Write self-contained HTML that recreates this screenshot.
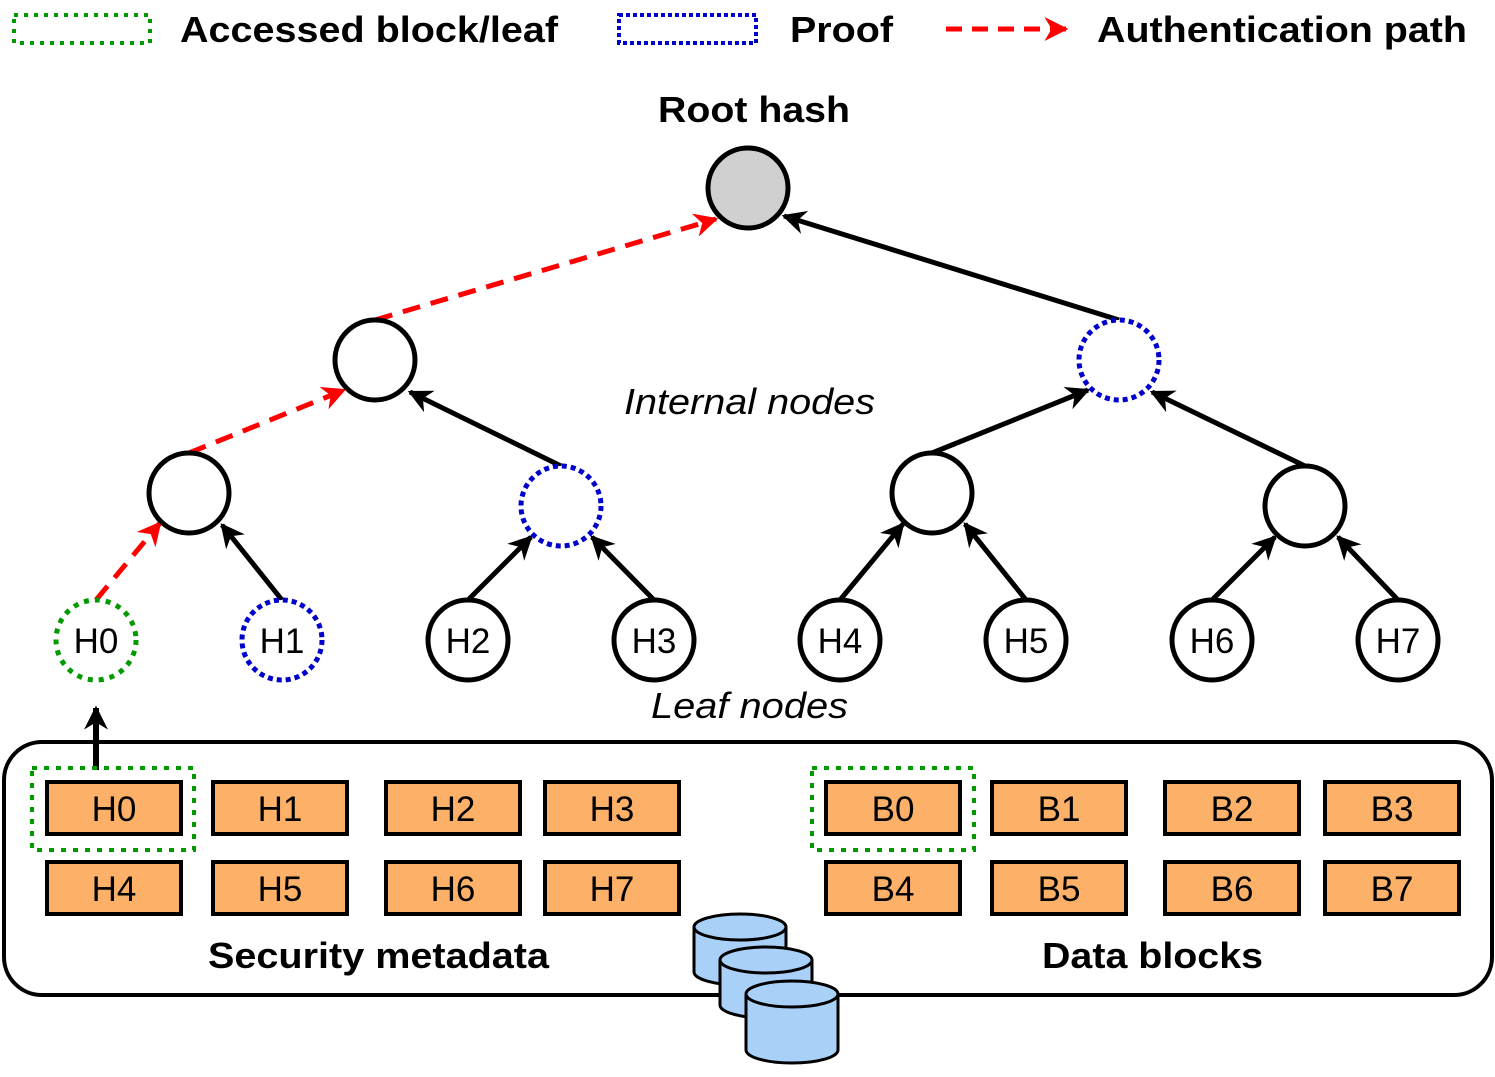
<!DOCTYPE html>
<html><head><meta charset="utf-8"><style>
html,body{margin:0;padding:0;background:#fff;}
svg{display:block;}
text{font-family:"Liberation Sans",Arial,sans-serif;}
</style></head><body>
<svg width="1495" height="1077" viewBox="0 0 1495 1077" xmlns="http://www.w3.org/2000/svg">
<defs>
<marker id="k" viewBox="0 0 10 10" refX="9" refY="5" markerWidth="24" markerHeight="24" markerUnits="userSpaceOnUse" orient="auto"><path d="M0,0 L10,5 L0,10 L3,5 z" fill="#000"/></marker>
<marker id="r" viewBox="0 0 10 10" refX="9" refY="5" markerWidth="24" markerHeight="24" markerUnits="userSpaceOnUse" orient="auto"><path d="M0,0 L10,5 L0,10 L3,5 z" fill="#f00"/></marker>
</defs>

<rect x="14" y="15" width="136" height="28" fill="none" stroke="#090" stroke-width="4" stroke-dasharray="4,6"/>
<text x="180" y="42" font-size="36" font-weight="bold" textLength="378" lengthAdjust="spacingAndGlyphs">Accessed block/leaf</text>
<rect x="619" y="15" width="137" height="28" fill="none" stroke="#00c" stroke-width="4" stroke-dasharray="4,3"/>
<text x="790" y="42" font-size="36" font-weight="bold" textLength="103" lengthAdjust="spacingAndGlyphs">Proof</text>
<line x1="946" y1="29" x2="1066" y2="29" stroke="#f00" stroke-width="5" stroke-dasharray="16,10" marker-end="url(#r)"/>
<text x="1097" y="42" font-size="36" font-weight="bold" textLength="370" lengthAdjust="spacingAndGlyphs">Authentication path</text>

<text x="658" y="122" font-size="36" font-weight="bold" textLength="192" lengthAdjust="spacingAndGlyphs">Root hash</text>
<text x="624" y="414" font-size="36" font-style="italic" textLength="251" lengthAdjust="spacingAndGlyphs">Internal nodes</text>
<text x="651" y="718" font-size="36" font-style="italic" textLength="197" lengthAdjust="spacingAndGlyphs">Leaf nodes</text>

<g stroke-width="5" fill="none">
<line x1="1119" y1="320" x2="784" y2="216" stroke="#000" marker-end="url(#k)"/>
<line x1="375" y1="320" x2="716" y2="219" stroke="#f00" stroke-dasharray="18,11" marker-end="url(#r)"/>
<line x1="561" y1="466" x2="410" y2="392" stroke="#000" marker-end="url(#k)"/>
<line x1="189" y1="453" x2="344" y2="390" stroke="#f00" stroke-dasharray="18,11" marker-end="url(#r)"/>
<line x1="282" y1="600" x2="222" y2="525" stroke="#000" marker-end="url(#k)"/>
<line x1="96" y1="600" x2="160" y2="523" stroke="#f00" stroke-dasharray="18,11" marker-end="url(#r)"/>
<line x1="468" y1="600" x2="531" y2="537" stroke="#000" marker-end="url(#k)"/>
<line x1="654" y1="600" x2="592" y2="537" stroke="#000" marker-end="url(#k)"/>
<line x1="932" y1="453" x2="1088" y2="390" stroke="#000" marker-end="url(#k)"/>
<line x1="1305" y1="466" x2="1152" y2="392" stroke="#000" marker-end="url(#k)"/>
<line x1="840" y1="600" x2="903" y2="524" stroke="#000" marker-end="url(#k)"/>
<line x1="1026" y1="600" x2="965" y2="524" stroke="#000" marker-end="url(#k)"/>
<line x1="1212" y1="600" x2="1275" y2="537" stroke="#000" marker-end="url(#k)"/>
<line x1="1398" y1="600" x2="1338" y2="537" stroke="#000" marker-end="url(#k)"/>
</g>

<g stroke-width="5">
<circle cx="748" cy="188" r="40" fill="#d0d0d0" stroke="#000"/>
<circle cx="375" cy="360" r="40" fill="#fff" stroke="#000"/>
<circle cx="1119" cy="360" r="40" fill="#fff" stroke="#00c" stroke-dasharray="5,4"/>
<circle cx="189" cy="493" r="40" fill="#fff" stroke="#000"/>
<circle cx="561" cy="506" r="40" fill="#fff" stroke="#00c" stroke-dasharray="5,4"/>
<circle cx="932" cy="493" r="40" fill="#fff" stroke="#000"/>
<circle cx="1305" cy="506" r="40" fill="#fff" stroke="#000"/>
<circle cx="96" cy="640" r="40" fill="#fff" stroke="#090" stroke-dasharray="5,6"/>
<circle cx="282" cy="640" r="40" fill="#fff" stroke="#00c" stroke-dasharray="5,4"/>
<circle cx="468" cy="640" r="40" fill="#fff" stroke="#000"/>
<circle cx="654" cy="640" r="40" fill="#fff" stroke="#000"/>
<circle cx="840" cy="640" r="40" fill="#fff" stroke="#000"/>
<circle cx="1026" cy="640" r="40" fill="#fff" stroke="#000"/>
<circle cx="1212" cy="640" r="40" fill="#fff" stroke="#000"/>
<circle cx="1398" cy="640" r="40" fill="#fff" stroke="#000"/>
</g>
<g font-size="35" text-anchor="middle">
<text x="96" y="653">H0</text><text x="282" y="653">H1</text><text x="468" y="653">H2</text><text x="654" y="653">H3</text>
<text x="840" y="653">H4</text><text x="1026" y="653">H5</text><text x="1212" y="653">H6</text><text x="1398" y="653">H7</text>
</g>

<rect x="4" y="742" width="1488" height="253" rx="38" fill="#fff" stroke="#000" stroke-width="4"/>
<line x1="96" y1="770" x2="96" y2="708" stroke="#000" stroke-width="6" marker-end="url(#k)"/>
<g fill="#fdb168" stroke="#000" stroke-width="4">
<rect x="47" y="782" width="134" height="52"/><rect x="213" y="782" width="134" height="52"/><rect x="386" y="782" width="134" height="52"/><rect x="545" y="782" width="134" height="52"/>
<rect x="47" y="862" width="134" height="52"/><rect x="213" y="862" width="134" height="52"/><rect x="386" y="862" width="134" height="52"/><rect x="545" y="862" width="134" height="52"/>
<rect x="826" y="782" width="134" height="52"/><rect x="992" y="782" width="134" height="52"/><rect x="1165" y="782" width="134" height="52"/><rect x="1325" y="782" width="134" height="52"/>
<rect x="826" y="862" width="134" height="52"/><rect x="992" y="862" width="134" height="52"/><rect x="1165" y="862" width="134" height="52"/><rect x="1325" y="862" width="134" height="52"/>
</g>
<rect x="32" y="768" width="162" height="82" fill="none" stroke="#090" stroke-width="4" stroke-dasharray="5,7"/>
<rect x="812" y="768" width="162" height="82" fill="none" stroke="#090" stroke-width="4" stroke-dasharray="5,7"/>
<g font-size="35" text-anchor="middle">
<text x="114" y="821">H0</text><text x="280" y="821">H1</text><text x="453" y="821">H2</text><text x="612" y="821">H3</text>
<text x="114" y="901">H4</text><text x="280" y="901">H5</text><text x="453" y="901">H6</text><text x="612" y="901">H7</text>
<text x="893" y="821">B0</text><text x="1059" y="821">B1</text><text x="1232" y="821">B2</text><text x="1392" y="821">B3</text>
<text x="893" y="901">B4</text><text x="1059" y="901">B5</text><text x="1232" y="901">B6</text><text x="1392" y="901">B7</text>
</g>
<text x="208" y="968" font-size="36" font-weight="bold" textLength="341" lengthAdjust="spacingAndGlyphs">Security metadata</text>
<text x="1042" y="968" font-size="36" font-weight="bold" textLength="221" lengthAdjust="spacingAndGlyphs">Data blocks</text>

<g fill="#a9d1f7" stroke="#000" stroke-width="3">
<path d="M694,927 v45 a46,13 0 0 0 92,0 v-45"/><ellipse cx="740" cy="927" rx="46" ry="13"/>
<path d="M720,960 v45 a46,13 0 0 0 92,0 v-45"/><ellipse cx="766" cy="960" rx="46" ry="13"/>
<path d="M746,994 v56 a46,13 0 0 0 92,0 v-56"/><ellipse cx="792" cy="994" rx="46" ry="13"/>
</g>
</svg>
</body></html>
